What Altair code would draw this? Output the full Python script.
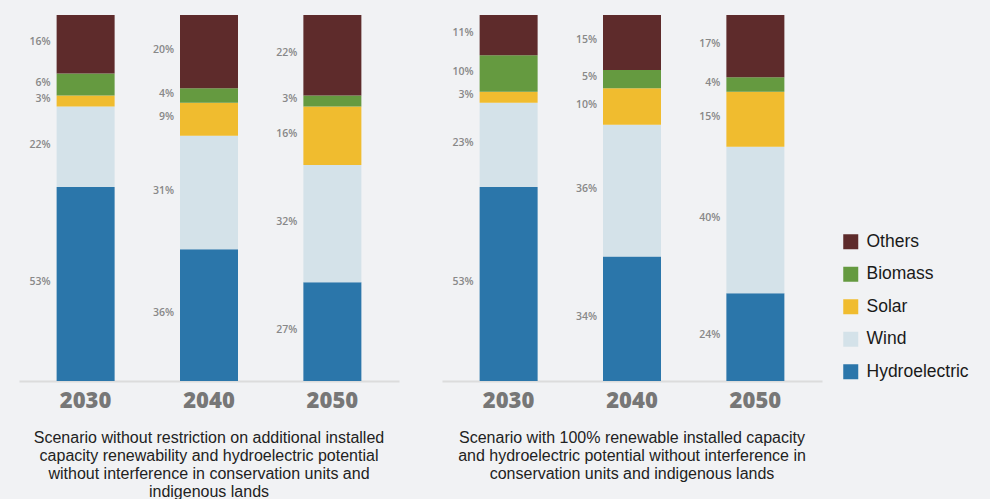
import altair as alt
import pandas as pd

years = ["2030", "2040", "2050"]
stack_order = ["Hydroelectric", "Wind", "Solar", "Biomass", "Others"]
legend_order = ["Others", "Biomass", "Solar", "Wind", "Hydroelectric"]
legend_colors = ["#5e2b2b", "#659a40", "#f0bc2f", "#d4e2e9", "#2b76aa"]

# Scenario 1 (left) shares in %, per year 2030/2040/2050
s1_hydro = [53, 36, 27]
s1_wind = [22, 31, 32]
s1_solar = [3, 9, 16]
s1_biomass = [6, 4, 3]
s1_others = [16, 20, 22]

# Scenario 2 (right)
s2_hydro = [53, 34, 24]
s2_wind = [23, 36, 40]
s2_solar = [3, 10, 15]
s2_biomass = [10, 5, 4]
s2_others = [11, 15, 17]

title1 = ["Scenario without restriction on additional installed",
          "capacity renewability and hydroelectric potential",
          "without interference in conservation units and",
          "indigenous lands"]
title2 = ["Scenario with 100% renewable installed capacity",
          "and hydroelectric potential without interference in",
          "conservation units and indigenous lands"]


def make_df(series):
    rows = []
    for src, vals in zip(stack_order, series):
        for y, v in zip(years, vals):
            rows.append({"year": y, "source": src, "value": v,
                         "ord": stack_order.index(src)})
    return pd.DataFrame(rows)


df1 = make_df([s1_hydro, s1_wind, s1_solar, s1_biomass, s1_others])
df2 = make_df([s2_hydro, s2_wind, s2_solar, s2_biomass, s2_others])

legend = alt.Legend(
    title=None, orient="none", legendX=823, legendY=218,
    symbolType="square", symbolSize=225, symbolStrokeWidth=0,
    labelFont="Liberation Sans", labelFontSize=17.5, labelColor="#1a1a1a",
    labelOffset=7, rowPadding=13.5, padding=0,
)


def panel(df, title_lines):
    base = alt.Chart(df).transform_stack(
        stack="value", groupby=["year"], as_=["v0", "v1"],
        sort=[alt.SortField("ord", order="ascending")],
    ).transform_calculate(
        mid="(datum.v0 + datum.v1) / 2",
        label="datum.value + '%'",
    )
    x = alt.X(
        "year:N", sort=years, title=None,
        scale=alt.Scale(paddingInner=0, paddingOuter=0.04),
        axis=alt.Axis(
            labelAngle=0, labelFont="Open Sans", labelFontSize=22,
            labelFontWeight=800, labelColor="#777777", labelPadding=9,
            ticks=False, domainColor="#dcdcdc", domainWidth=2, grid=False,
        ),
    )
    bars = base.mark_bar(size=58).encode(
        x=x,
        y=alt.Y("v0:Q", scale=alt.Scale(domain=[0, 100]), axis=None),
        y2="v1:Q",
        color=alt.Color("source:N",
                        scale=alt.Scale(domain=legend_order, range=legend_colors),
                        legend=legend),
    )
    text = base.mark_text(
        align="right", baseline="middle", dx=-35, dy=-2,
        font="Open Sans", fontSize=10.5, fontWeight=600, color="#888888",
    ).encode(
        x=x,
        y=alt.Y("mid:Q", scale=alt.Scale(domain=[0, 100]), axis=None),
        text="label:N",
    )
    return alt.layer(bars, text).properties(
        width=380, height=366,
        title=alt.TitleParams(
            text=title_lines, orient="bottom", anchor="middle",
            font="Liberation Sans", fontSize=16, fontWeight="normal",
            color="#222222", lineHeight=18, offset=19,
        ),
    )


chart = alt.hconcat(panel(df1, title1), panel(df2, title2), spacing=43).properties(
    background="#f1f2f4",
    padding={"left": 19, "top": 15, "right": 21, "bottom": 0},
).configure_view(stroke=None)

chart.save("out.html", embed_options={"renderer": "svg", "actions": False})
